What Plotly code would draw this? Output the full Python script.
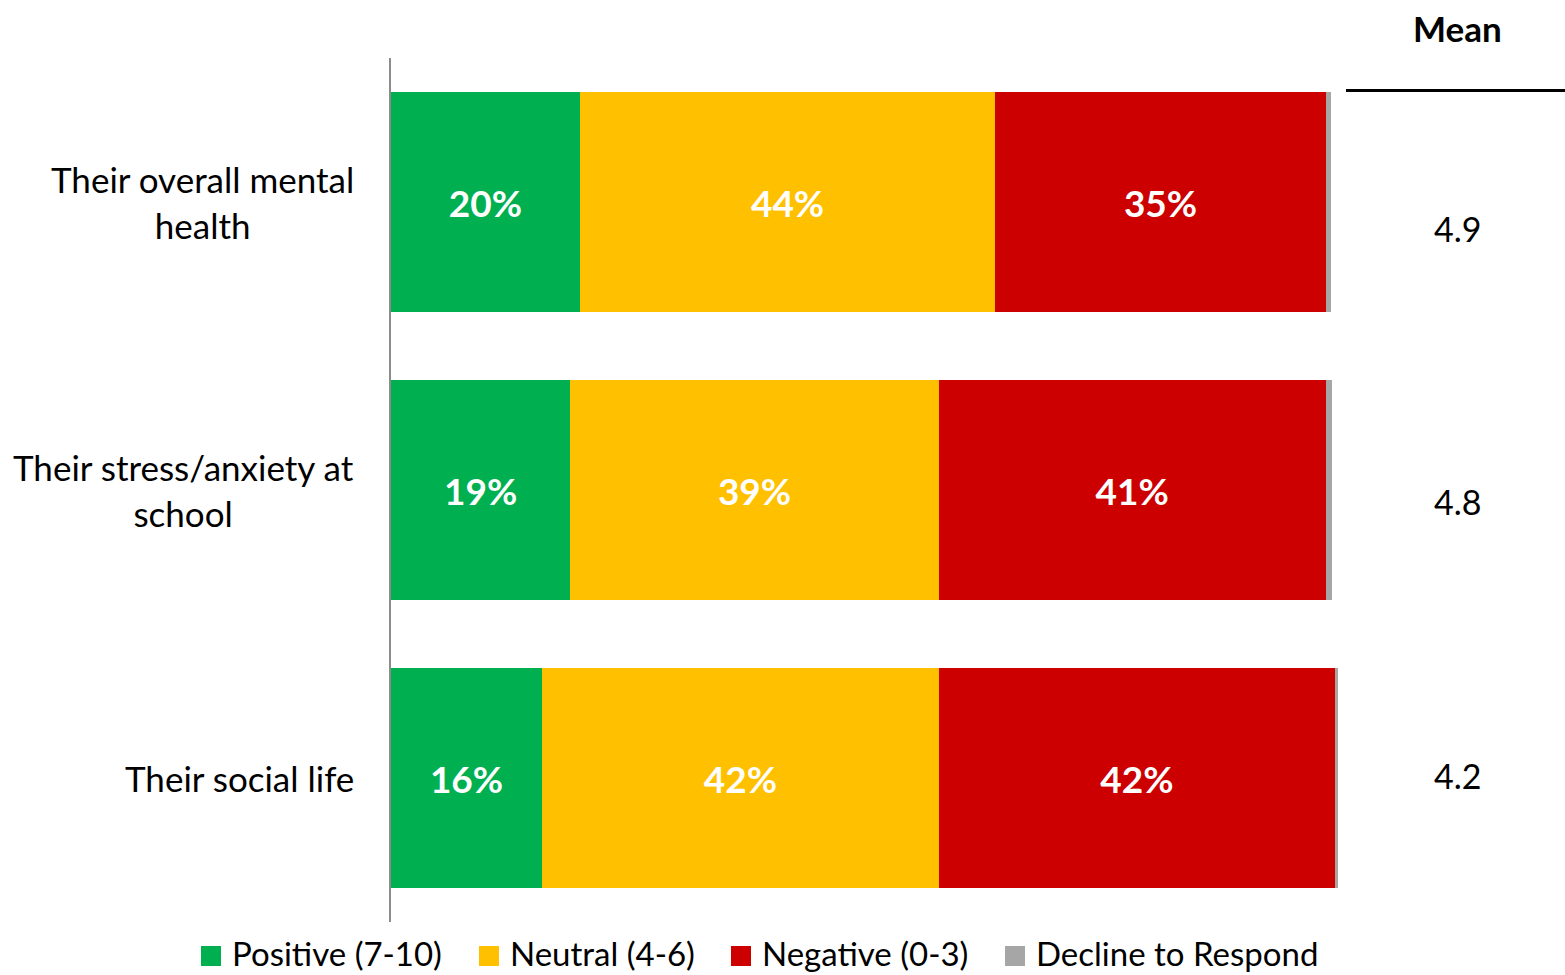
import plotly.graph_objects as go

# Survey items (top to bottom) and response shares in percent
categories = ["Their overall mental health", "Their stress/anxiety at school", "Their social life"]
label_text = ["Their overall mental<br>health", "Their stress/anxiety at<br>school", "Their social life"]
positive = [20, 19, 16]
neutral = [44, 39, 42]
negative = [35, 41, 42]
decline = [0.6, 0.7, 0.3]
means = [4.9, 4.8, 4.2]

series_names = ["Positive (7-10)", "Neutral (4-6)", "Negative (0-3)", "Decline to Respond"]
series_values = [positive, neutral, negative, decline]
series_colors = ["#00B050", "#FFC000", "#CC0000", "#A6A6A6"]
show_text = [True, True, True, False]

FONT = "Lato"
W, H = 1565, 975
M_L, M_R, M_T, M_B = 391, 227, 58, 53
PW, PH = W - M_L - M_R, H - M_T - M_B


def px_to_paper_x(px):
    return (px - M_L) / PW


def px_to_paper_y(py):
    return (H - M_B - py) / PH


fig = go.Figure()
for name, vals, color, txt in zip(series_names, series_values, series_colors, show_text):
    fig.add_trace(go.Bar(
        y=categories, x=vals, name=name, orientation="h",
        marker=dict(color=color, line=dict(width=0)),
        text=[f"{v:.0f}%" for v in vals] if txt else None,
        textposition="inside" if txt else "none",
        insidetextanchor="middle", textangle=0,
        textfont=dict(family=FONT, size=37, color="white", weight="bold"),
        showlegend=False,
    ))

annotations = []
shapes = []

# Category labels, centred lines, right edge just left of the axis
for cat, txt in zip(categories, label_text):
    annotations.append(dict(
        x=px_to_paper_x(356), xref="paper", xanchor="right", align="center",
        y=cat, yref="y", yanchor="middle",
        text=txt, showarrow=False,
        font=dict(family=FONT, size=35, color="#000000"),
    ))

# Mean column
annotations.append(dict(
    x=px_to_paper_x(1457), xref="paper", xanchor="center",
    y=px_to_paper_y(28), yref="paper", yanchor="middle",
    text="<b>Mean</b>", showarrow=False,
    font=dict(family=FONT, size=35, color="#000000"),
))
shapes.append(dict(
    type="line", xref="paper", yref="paper",
    x0=px_to_paper_x(1346), x1=px_to_paper_x(1565),
    y0=px_to_paper_y(90.5), y1=px_to_paper_y(90.5),
    line=dict(color="#000000", width=3),
))
for m, py in zip(means, [228, 502, 775]):
    annotations.append(dict(
        x=px_to_paper_x(1457), xref="paper", xanchor="center",
        y=px_to_paper_y(py), yref="paper", yanchor="middle",
        text=f"{m:.1f}", showarrow=False,
        font=dict(family=FONT, size=34, color="#000000"),
    ))

# Legend row along the bottom
legend_x = [201, 479, 731, 1005]
for name, color, lx in zip(series_names, series_colors, legend_x):
    shapes.append(dict(
        type="rect", xref="paper", yref="paper",
        x0=px_to_paper_x(lx), x1=px_to_paper_x(lx + 20),
        y0=px_to_paper_y(966), y1=px_to_paper_y(946),
        fillcolor=color, line=dict(width=0),
    ))
    annotations.append(dict(
        x=px_to_paper_x(lx + 29), xref="paper", xanchor="left",
        y=px_to_paper_y(953), yref="paper", yanchor="middle",
        text=name, showarrow=False,
        font=dict(family=FONT, size=33, color="#000000"),
    ))

fig.update_layout(
    width=W, height=H,
    margin=dict(l=M_L, r=M_R, t=M_T, b=M_B, pad=0),
    barmode="stack", bargap=0.233,
    plot_bgcolor="white", paper_bgcolor="white",
    font=dict(family=FONT, color="#000000"),
    showlegend=False,
    xaxis=dict(range=[0, 100.3], visible=False, fixedrange=True),
    yaxis=dict(
        categoryorder="array", categoryarray=categories, autorange="reversed",
        showticklabels=False, ticks="", showgrid=False, zeroline=False,
        showline=True, linecolor="#8C8C8C", linewidth=1.5,
    ),
    annotations=annotations, shapes=shapes,
)

fig.write_html("out.html")
